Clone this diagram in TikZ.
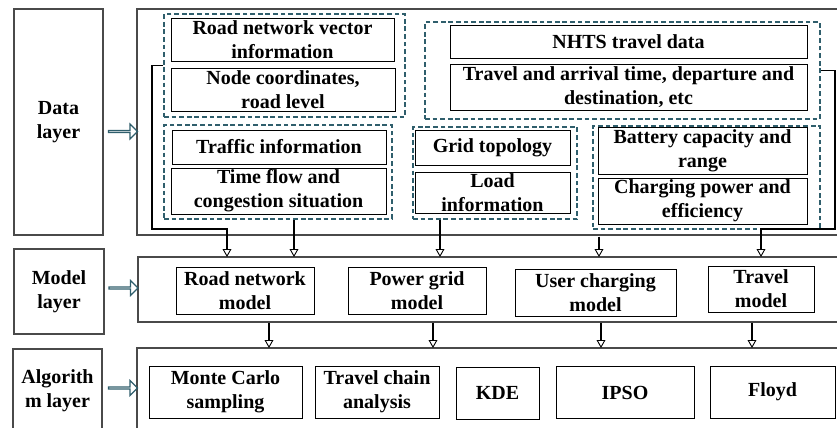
\documentclass[tikz,border=0pt]{standalone}
\usepackage{fontspec}
\setmainfont{Liberation Serif}
\usetikzlibrary{arrows.meta,shapes.arrows}
\definecolor{dashteal}{HTML}{2F5E6C}
\definecolor{boxgray}{HTML}{4A4A4A}

\begin{document}
\begin{tikzpicture}[x=0.5pt,y=-0.5pt,
	box/.style={draw,line width=0.5pt,font=\bfseries,align=center,inner sep=0pt},
	layer/.style={draw=boxgray,line width=0.6pt,inner sep=0pt},
	group/.style={draw=dashteal,dash pattern=on 2.4pt off 1.4pt,line width=0.9pt,inner sep=0pt},
	harrow/.style={single arrow,draw=dashteal,line width=0.6pt,inner sep=0pt,minimum height=14.5pt,minimum width=7.5pt,single arrow head extend=2pt},
	link/.style={line width=0.75pt,-{Triangle[open,length=4pt,width=4.4pt,line width=0.45pt]}}]
			\useasboundingbox (0,0) rectangle (837,428);
			% layer names on the left
			\node[layer,font=\bfseries,align=center,minimum width=44.5pt,minimum height=113pt] (DataLayer) at (58.5,122) {Data\\layer};
			\node[layer,font=\bfseries,align=center,minimum width=45pt,minimum height=42.5pt] (ModelLayer) at (59,291.5) {Model\\layer};
			\node[layer,font=\bfseries,align=center,minimum width=44.5pt,minimum height=41.5pt] (AlgoLayer) at (57.5,390.5) {Algorith\\m layer};
			
			% outer frames
			\node[layer,minimum width=356.5pt,minimum height=113pt] (DataBox) at (493.5,122) {};
			\node[layer,minimum width=356pt,minimum height=32.5pt] (ModelBox) at (494,289.5) {};
			\node[layer,minimum width=356.5pt,minimum height=46pt] (AlgoBox) at (493.5,394) {};
			
			\node[harrow] (DataArrow) at (122.5,131.5) {};
			\node[harrow] (ModelArrow) at (123,288) {};
			\node[harrow] (AlgoArrow) at (122.5,388) {};
			
			% dashed groups
			\node[group,minimum width=120.5pt,minimum height=51.5pt] (RoadGroup) at (284.5,65.5) {};
			\node[group,minimum width=114pt,minimum height=47pt] (TrafficGroup) at (278,172) {};
			\node[group,minimum width=197.5pt,minimum height=48.5pt] (TravelGroup) at (622.5,70.5) {};
			\node[group,minimum width=82pt,minimum height=46pt] (GridGroup) at (495,173) {};
			\node[group,minimum width=113.5pt,minimum height=51.5pt] (BatteryGroup) at (706.5,177.5) {};
			
			% data items
			\node[box,minimum width=111.5pt,minimum height=21.5pt] (RoadVector) at (282.5,39.5) {Road network vector\\information};
			\node[box,minimum width=112pt,minimum height=21.5pt] (NodeCoord) at (283,89.5) {Node coordinates,\\road level};
			\node[box,minimum width=107pt,minimum height=17pt] (TrafficInfo) at (279,147) {Traffic information};
			\node[box,minimum width=107.5pt,minimum height=23pt] (TimeFlow) at (278.5,191) {Time flow and\\congestion situation};
			\node[box,minimum width=178.5pt,minimum height=16.5pt] (NHTS) at (628.5,41.5) {NHTS travel data};
			\node[box,minimum width=178.5pt,minimum height=23pt] (ArrivalTime) at (628.5,87) {Travel and arrival time, departure and\\destination, etc};
			\node[box,minimum width=77.5pt,minimum height=17.5pt] (GridTopo) at (492.5,147.5) {Grid topology};
			\node[box,minimum width=77.5pt,minimum height=20.5pt] (LoadInfo) at (492.5,192.5) {Load\\information};
			\node[box,minimum width=104.5pt,minimum height=23.5pt] (Battery) at (702.5,150.5) {Battery capacity and\\range};
			\node[box,minimum width=104.5pt,minimum height=23pt] (Charging) at (702.5,201) {Charging power and\\efficiency};
			
			% models
			\node[box,minimum width=69pt,minimum height=23.5pt] (RoadModel) at (245,290.5) {Road network\\model};
			\node[box,minimum width=69pt,minimum height=23.5pt] (GridModel) at (417,290.5) {Power grid\\model};
			\node[box,minimum width=80.5pt,minimum height=23.5pt] (UserModel) at (595.5,292.5) {User charging\\model};
			\node[box,minimum width=53pt,minimum height=23pt] (TravelModel) at (761,289) {Travel\\model};
			
			% algorithms
			\node[box,minimum width=76.5pt,minimum height=26pt] (MonteCarlo) at (225.5,392) {Monte Carlo\\sampling};
			\node[box,minimum width=62pt,minimum height=26pt] (TravelChain) at (377,392) {Travel chain\\analysis};
			\node[box,minimum width=41.5pt,minimum height=26pt] (KDE) at (497.5,393) {KDE};
			\node[box,minimum width=69pt,minimum height=26pt] (IPSO) at (625,392.5) {IPSO};
			\node[box,minimum width=62.5pt,minimum height=26pt] (Floyd) at (772.5,392) {Floyd};
			
			% data -> model
			\coordinate (BendLeft) at (152,229);
			\coordinate (BendRight) at (835,229);
			\foreach \i/\x in {1/227,2/294,3/440,4/599,5/761}
				\coordinate (M\i) at (\x,257);
			\draw[link] (RoadGroup.west) -| (BendLeft) -| (M1);
			\draw[link] (TrafficGroup.south -| M2) -- (M2);
			\draw[link] (GridGroup.south -| M3) -- (M3);
			\draw[link] ([yshift=-6]Charging.south -| M4) -- (M4);
			\draw[link] (TravelGroup.east) -| (BendRight) -| (M5);
			
			% model -> algorithm
			\foreach \i/\x in {1/269,2/433,3/601,4/752}{
				\coordinate (A\i) at (\x,348);
				\draw[link] (ModelBox.south -| A\i) -- (A\i);
			}
			
			\end{tikzpicture}
\end{document}
